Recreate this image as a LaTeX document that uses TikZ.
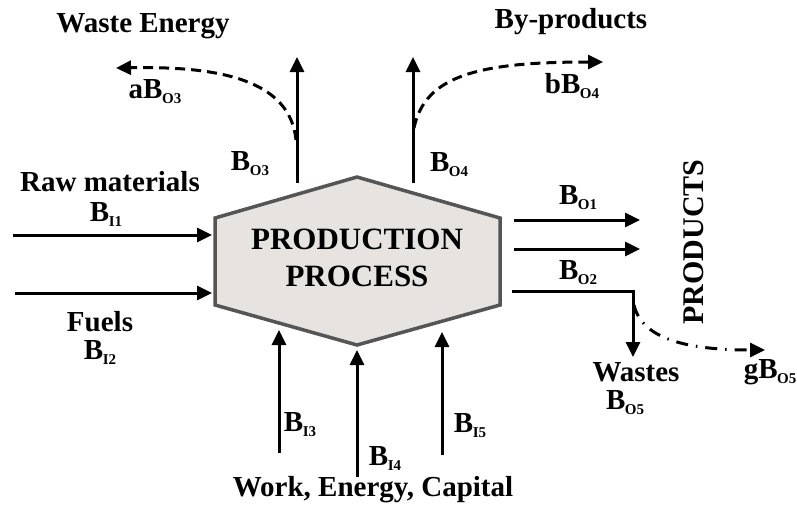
\documentclass[tikz,border=0pt]{standalone}
\usepackage{fontspec}
\setmainfont{Liberation Serif}
\usetikzlibrary{arrows.meta}
\newcommand\lbl[1]{\fontsize{29}{32}\selectfont\bfseries #1}
\newcommand\Bx[1]{B\kern-0.5pt\raisebox{-5pt}{\fontsize{15}{15}\selectfont\bfseries #1}}
\tikzset{
  flow/.style={line width=3pt,-{Triangle[length=15pt,width=14pt]}},
  txt/.style={inner sep=0pt,font=\lbl},
  dashflow/.style={line width=3pt,dash pattern=on 10pt off 6pt,-{Triangle[length=15pt,width=14pt]}},
  dotflow/.style={line width=3pt,dash pattern=on 12pt off 8pt on 1.5pt off 8pt,-{Triangle[length=15pt,width=14pt]}}
}
\definecolor{hexfill}{RGB}{230,227,224}
\definecolor{hexline}{RGB}{85,85,85}
\begin{document}
\begin{tikzpicture}[x=1pt,y=-1pt]
\useasboundingbox (0,0) rectangle (797,512);
% hexagon
\coordinate (ht) at (357,177);
\coordinate (hul) at (215,218);
\coordinate (hll) at (215,305);
\coordinate (hb) at (357,345);
\coordinate (hlr) at (500,305);
\coordinate (hur) at (500,218);
\filldraw[fill=hexfill,draw=hexline,line width=3.5pt,line join=miter] (ht)--(hul)--(hll)--(hb)--(hlr)--(hur)--cycle;
\node[inner sep=0pt,align=center,font=\fontsize{31}{37}\selectfont\bfseries] (proc) at (357,258) {PRODUCTION\\PROCESS};

% left inputs
\coordinate (r0) at (13,235); \coordinate (r1) at (212,235);
\coordinate (f0) at (15,293); \coordinate (f1) at (212,293);
\draw[flow] (r0) -- (r1);
\draw[flow] (f0) -- (f1);
\node[txt] (raw) at (110,182) {Raw materials};
\node[txt] (bi1) at (106,214) {\Bx{I1}};
\node[txt] (fuels) at (100,322) {Fuels};
\node[txt] (bi2) at (100,352) {\Bx{I2}};

% top outputs
\coordinate (o3a) at (297,183); \coordinate (o3b) at (297,57);
\coordinate (o4a) at (413,183); \coordinate (o4b) at (413,57);
\draw[flow] (o3a) -- (o3b);
\draw[flow] (o4a) -- (o4b);
\node[txt] (bo3) at (250,164) {\Bx{O3}};
\node[txt] (bo4) at (449,165) {\Bx{O4}};
\coordinate (w0) at (296,140); \coordinate (w1) at (116,68);
\draw[dashflow] (w0) .. controls (290,80) and (220,66) .. (w1);
\coordinate (p0) at (414,128); \coordinate (p1) at (603,62);
\draw[dashflow] (p0) .. controls (425,75) and (480,62) .. (p1);
\node[txt] (waste) at (143,26) {Waste Energy};
\node[txt] (abo3) at (155,92) {a\Bx{O3}};
\node[txt] (byp) at (571,22) {By-products};
\node[txt] (bbo4) at (572,86) {b\Bx{O4}};

% right outputs
\coordinate (q1a) at (514,220); \coordinate (q1b) at (640,220);
\coordinate (q2a) at (514,249); \coordinate (q2b) at (640,249);
\draw[flow] (q1a) -- (q1b);
\draw[flow] (q2a) -- (q2b);
\node[txt] (bo1) at (578,198) {\Bx{O1}};
\node[txt] (bo2) at (578,273) {\Bx{O2}};
\coordinate (q3a) at (512,291); \coordinate (q3c) at (633,291); \coordinate (q3b) at (633,357);
\draw[flow,line join=miter] (q3a) -- (q3c) -- (q3b);
\coordinate (g0) at (634,305); \coordinate (g1) at (765,350);
\draw[dotflow] (g0) .. controls (642,340) and (690,350) .. (g1);
\node[txt] (wastes) at (636,372) {Wastes};
\node[txt] (bo5) at (625,403) {\Bx{O5}};
\node[txt] (gbo5) at (770,372) {g\Bx{O5}};
\node[txt,rotate=90,font=\fontsize{30}{32}\selectfont\bfseries] (prods) at (694,242) {PRODUCTS};

% bottom inputs
\coordinate (i3a) at (279,453); \coordinate (i3b) at (279,330);
\coordinate (i4a) at (357,477); \coordinate (i4b) at (357,350);
\coordinate (i5a) at (442,455); \coordinate (i5b) at (442,332);
\draw[flow] (i3a) -- (i3b);
\draw[flow] (i4a) -- (i4b);
\draw[flow] (i5a) -- (i5b);
\node[txt] (bi3) at (300,425) {\Bx{I3}};
\node[txt] (bi4) at (385,458) {\Bx{I4}};
\node[txt] (bi5) at (470,426) {\Bx{I5}};
\node[txt] (work) at (373,490) {Work, Energy, Capital};
\end{tikzpicture}
\end{document}
